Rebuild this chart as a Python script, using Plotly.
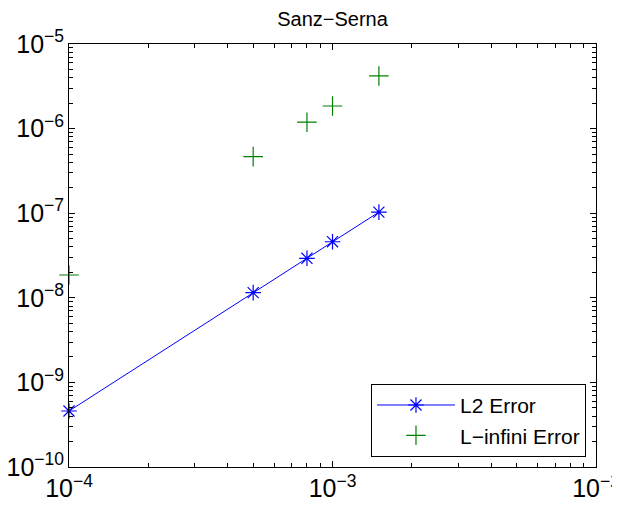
import plotly.graph_objects as go

dt = [1e-4, 5e-4, 8e-4, 1e-3, 1.5e-3]
l2_error = [4.59e-10, 1.15e-8, 2.93e-8, 4.60e-8, 1.03e-7]
linf_error = [1.86e-8, 4.66e-7, 1.19e-6, 1.85e-6, 4.19e-6]

FONT = "Liberation Sans, Arial, Helvetica, sans-serif"

fig = go.Figure()
fig.add_trace(go.Scatter(
    x=dt, y=l2_error, mode="lines+markers", name="L2 Error",
    line=dict(color="#0000ff", width=1),
    marker=dict(symbol="asterisk-open", size=13, color="#0000ff",
                line=dict(color="#0000ff", width=1.2)),
    cliponaxis=False,
))
fig.add_trace(go.Scatter(
    x=dt, y=linf_error, mode="markers", name="L\u2212infini Error",
    marker=dict(symbol="cross-thin-open", size=14, color="#008000",
                line=dict(color="#008000", width=1.2)),
    cliponaxis=False,
))

axis_common = dict(
    type="log", dtick=1, exponentformat="power", automargin=False,
    showline=True, linecolor="black", linewidth=1, mirror="ticks",
    ticks="inside", ticklen=6, tickcolor="black", tickwidth=1,
    showgrid=False, zeroline=False,
    tickfont=dict(family=FONT, size=20, color="black"),
    minor=dict(ticks="inside", ticklen=4, tickcolor="black", tickwidth=1,
               dtick="D1", showgrid=False),
)

fig.update_layout(
    xaxis=dict(range=[-4, -2], **axis_common),
    yaxis=dict(range=[-10, -5], **axis_common),
)

# page body adds an 8px offset; margins compensate for it
fig.update_layout(
    width=620, height=510, autosize=False,
    margin=dict(l=61, r=32, t=36, b=51),
    paper_bgcolor="white", plot_bgcolor="white",
    title=dict(text="Sanz\u2212Serna", x=0.5, xref="paper", xanchor="center",
               y=1 - 11 / 510, yref="container", yanchor="middle",
               font=dict(family=FONT, size=20, color="black")),
    font=dict(family=FONT, color="black"),
    legend=dict(x=0.981, y=0.024, xanchor="right", yanchor="bottom",
                bgcolor="white", bordercolor="black", borderwidth=1,
                font=dict(family=FONT, size=21, color="black"),
                itemwidth=78, tracegroupgap=0),
    showlegend=True,
)

fig.write_html("out.html")
